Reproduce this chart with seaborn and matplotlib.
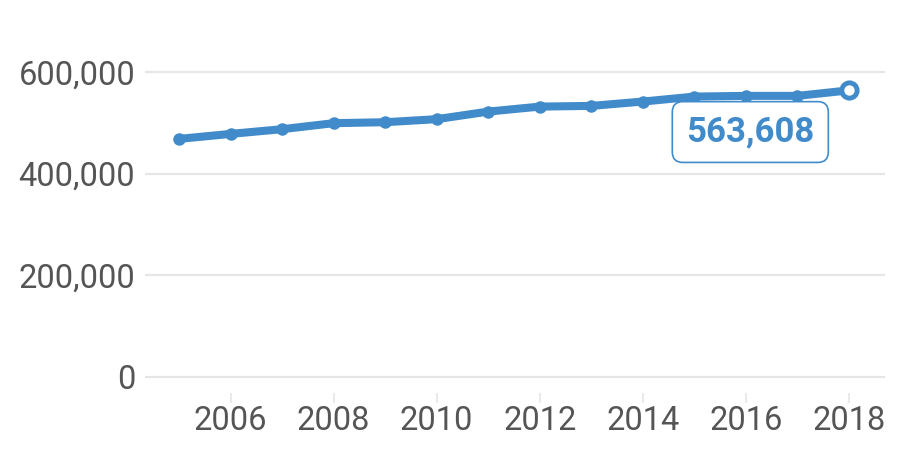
import pandas as pd
import seaborn as sns
import matplotlib.pyplot as plt
from matplotlib.ticker import FuncFormatter


years = [2005, 2006, 2007, 2008, 2009, 2010, 2011,
         2012, 2013, 2014, 2015, 2016, 2017, 2018]
values = [468200, 478000, 487300, 499100, 501000, 507000, 521900,
          531700, 533100, 541600, 551400, 552800, 552800, 563608]
y_ticks = [0, 200000, 400000, 600000]
x_ticks = [2006, 2008, 2010, 2012, 2014, 2016, 2018]

BLUE = "#418bcb"
GRID = "#e6e6e6"
TEXT = "#555555"


def main() -> None:
    sns.set_theme(style="white")
    plt.rcParams["font.family"] = ["Roboto", "DejaVu Sans"]

    df = pd.DataFrame({"year": years, "value": values})

    fig = plt.figure(figsize=(9, 4.5), dpi=100)
    ax = fig.add_axes([145 / 900, 1 - 393 / 450, 740 / 900, 373 / 450])

    sns.lineplot(
        data=df,
        x="year",
        y="value",
        color=BLUE,
        linewidth=5.8,
        marker="o",
        markersize=9,
        markeredgewidth=0,
        ax=ax,
        zorder=3,
    )
    # highlight the last point (hollow marker)
    last = df.iloc[[-1]]
    ax.plot(last["year"], last["value"], marker="o", markersize=11,
            markerfacecolor="white", markeredgecolor=BLUE,
            markeredgewidth=3.5, linestyle="none", zorder=4)

    ax.annotate(
        f"{values[-1]:,}",
        xy=(years[-1], values[-1]),
        xytext=(-71, -30),
        textcoords="offset points",
        ha="center",
        va="center",
        fontsize=25,
        fontweight="bold",
        color=BLUE,
        bbox=dict(boxstyle="round,pad=0.4,rounding_size=0.3",
                  facecolor="white", edgecolor=BLUE, linewidth=1.2),
        zorder=5,
    )

    ax.set_xlim(2004.34, 2018.7)
    ax.set_ylim(-31500, 702000)

    ax.set_yticks(y_ticks)
    ax.yaxis.set_major_formatter(FuncFormatter(lambda v, _: f"{int(v):,}"))
    ax.set_xticks(x_ticks)

    for yv in y_ticks:
        ax.axhline(yv, color=GRID, linewidth=1.6, zorder=1)

    for s in ax.spines.values():
        s.set_visible(False)

    ax.tick_params(axis="y", length=0, pad=7, labelsize=23.5, labelcolor=TEXT)
    ax.tick_params(axis="x", length=7, width=1.2, color=GRID, direction="out",
                   pad=2, labelsize=23.5, labelcolor=TEXT, bottom=True)

    ax.set_xlabel("")
    ax.set_ylabel("")

    fig.savefig("out.png", dpi=100)
    plt.close(fig)


if __name__ == "__main__":
    main()
